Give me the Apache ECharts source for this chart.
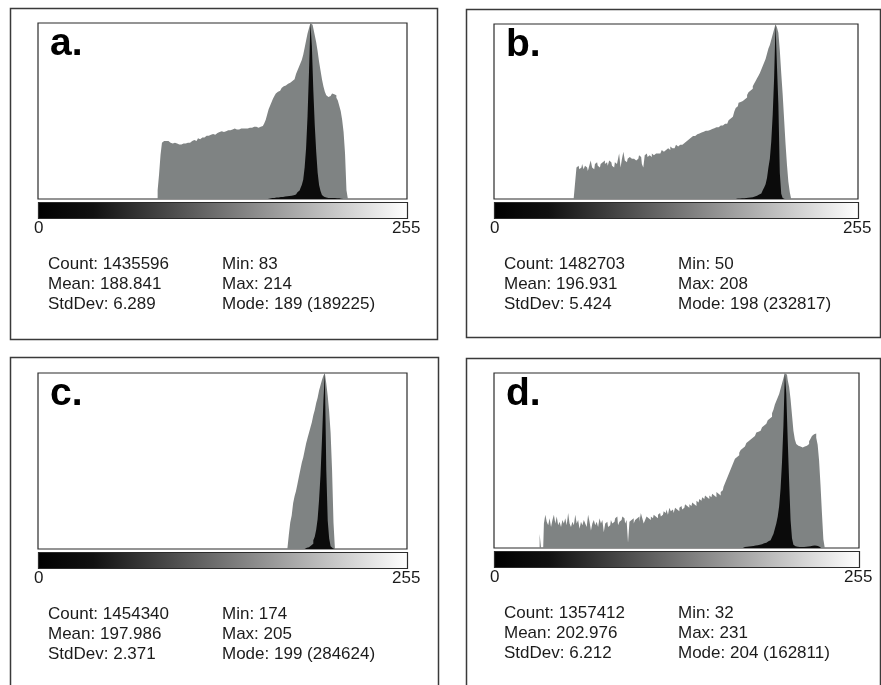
<!DOCTYPE html>
<html>
<head>
<meta charset="utf-8">
<script src="https://cdn.jsdelivr.net/npm/echarts@6.0.0/dist/echarts.min.js"></script>
<style>
  html, body { margin: 0; padding: 0; background: #fff; }
  #chart { width: 881px; height: 685px; }
</style>
</head>
<body>
<div id="chart"></div>
<script>
// 256 grey-level bins, only the two end labels are shown
var bins = [];
for (var i = 0; i < 256; i++) bins.push(String(i));
var tickLabels = ['0', '255'];
var panelLabels = ['a.', 'b.', 'c.', 'd.'];

// grey area = log-scaled histogram, black = linear histogram (both % of plot height)
// each array starts at the bin given by its *Start value
var grayStartA = 83;
var grayA = [5, 14, 25, 32, 33, 33, 32.5, 33, 32, 32.5,
  31.5, 32, 31, 31.5, 31, 32, 31, 31.5, 31, 31.5,
  32, 31, 32, 33, 32.5, 33.5, 33, 34, 34.5, 34,
  35, 34.5, 35, 36, 35.5, 36, 36.5, 36, 37, 36.5,
  37, 37.5, 38, 37.5, 38.5, 38, 39, 38.5, 39, 39.5,
  39, 39.5, 39, 40, 39.5, 40, 39.5, 40, 40.5, 40,
  40, 40.5, 40, 40.5, 40, 40.5, 41, 40.5, 41, 40.5,
  41, 41, 41.5, 42, 43, 45, 48, 51, 53, 55,
  57, 58.5, 60, 61, 61.5, 62.5, 63, 64, 64.5, 65,
  65.5, 66, 66.5, 67, 68, 69, 71, 73, 75, 77,
  79, 82, 86, 90, 94, 97, 100, 99, 97, 93,
  89, 84, 78, 73, 68, 64, 61, 59, 58, 58.5,
  59.5, 60, 59.5, 59, 57.5, 56, 53, 50, 45, 38,
  26, 5];
var blackStartA = 160;
var blackA = [0.3, 0.4, 0.5, 0.6, 0.7, 0.8, 0.9, 1, 1.1, 1.2,
  1.3, 1.4, 1.5, 1.6, 1.7, 1.8, 2, 2.2, 2.5, 3,
  3.8, 4.8, 6, 8, 11, 18, 29, 47, 72, 100,
  87, 62, 42, 27, 15, 8, 4.5, 2.3, 1.3, 0.9,
  0.7, 0.6, 0.6, 0.6, 0.6, 0.6, 0.5, 0.4, 0.4, 0.3, 0.2];

var grayStartB = 57;
var grayB = [9, 18, 19, 17, 18, 20, 17, 19, 18, 16,
  19, 22, 18, 17, 20, 21, 19, 18, 20, 21,
  22, 20, 21, 19, 22, 21, 19, 18, 21, 20,
  22, 26, 18, 23, 27, 22, 21, 23, 24, 23,
  24, 23, 22, 21, 23, 25, 24, 20, 18, 25,
  26, 24, 25, 24, 26, 25, 26, 27, 26, 26,
  27, 28, 27, 28, 27, 29, 28, 30, 29, 29,
  30, 31, 30, 31, 32, 31, 32, 33, 33, 34,
  34, 35, 36, 36, 36, 37, 37, 37.5, 38, 38,
  38.5, 39, 38.5, 39, 39.5, 40, 40, 40.5, 40.5, 41,
  41, 41.5, 42, 42, 42.5, 43, 43, 44, 45, 46,
  47, 48, 50, 52, 53, 55, 55.5, 56, 56.5, 57,
  58, 59.5, 61, 62, 63, 64.5, 66, 67.5, 69, 70.5,
  72, 74, 76, 78, 80, 83, 86, 88, 91, 94,
  97, 100, 98, 95, 85, 72, 60, 46, 32, 20,
  10, 4];
var blackStartB = 170;
var blackB = [0.27, 0.3, 0.33, 0.36, 0.4, 0.46, 0.5, 0.58, 0.67, 0.8,
  0.9, 1, 1.2, 1.5, 1.8, 2.2, 2.6, 3.1, 4, 5,
  6.6, 8.5, 12, 18, 23, 33, 48, 69, 100, 76,
  54, 15, 3, 0.6];

var grayStartC = 174;
var grayC = [8, 15, 19, 26, 30, 33, 37, 41, 45, 49,
  52, 56, 60, 63, 66, 69, 72, 76, 79, 83,
  86, 90, 93, 96, 98.5, 100, 94, 87, 78, 66,
  45, 15];
var blackStartC = 186;
var blackC = [0.7, 1, 1.4, 2, 3, 5, 7, 11, 17, 28,
  42, 62, 84, 100, 45, 16, 6, 1.5, 0.4];

var grayStartD = 32;
var grayD = [8, 0, 0, 14, 19, 15, 13, 17, 12, 16,
  19, 14, 18, 13, 15, 12, 16, 14, 17, 13,
  20, 14, 12, 15, 13, 19, 14, 16, 11, 15,
  13, 16, 14, 12, 19, 15, 10, 14, 16, 13,
  15, 12, 17, 14, 16, 9, 14, 15, 12, 13,
  16, 14, 15, 17, 18, 13, 15, 16, 18, 17,
  14, 16, 3, 15, 16, 17, 14, 16, 17, 18,
  15, 20, 17, 14, 16, 18, 17, 16, 18, 17,
  19, 18, 17, 19, 20, 18, 19, 21, 20, 22,
  19, 23, 21, 22, 20, 23, 22, 21, 23, 24,
  22, 23, 25, 24, 23, 25, 24, 26, 25, 24,
  27, 26, 28, 27, 29, 28, 30, 29, 28, 30,
  29, 31, 30, 29, 32, 31, 30, 32, 33, 35,
  37, 39, 41, 43, 45, 47, 49, 51, 52, 53,
  54.5, 56, 57, 58, 59, 60, 61, 62, 62.5, 63,
  64, 65, 66, 66.5, 67, 68, 69, 70, 71, 72,
  73, 74, 75, 77, 79, 82, 84, 86, 88, 91,
  94, 97, 100, 99, 96, 92, 85, 76, 67, 62,
  59.5, 58.5, 58, 58, 57.5, 58, 58, 58.5, 59.5, 61,
  62.5, 64, 65, 65.5, 63, 59, 50, 36, 20, 5];
var blackStartD = 175;
var blackD = [0.6, 0.7, 0.7, 0.8, 0.9,
  1, 1.1, 1.2, 1.4, 1.6, 1.7, 1.9, 2.1, 2.4, 2.7,
  3, 3.4, 3.9, 4.4, 5, 6.3, 8, 11, 14, 18,
  24, 34, 49, 70, 100, 88, 62, 38, 16, 5.6,
  1.9, 1, 0.7, 0.7, 0.6, 0.6, 0.6, 0.6, 0.7, 0.7,
  0.8, 1, 1.2, 1.3, 1.5, 1.6, 1.3, 0.8, 0.4];

var statsA = ['Count: 1435596', 'Mean: 188.841', 'StdDev: 6.289', 'Min: 83', 'Max: 214', 'Mode: 189 (189225)'];
var statsB = ['Count: 1482703', 'Mean: 196.931', 'StdDev: 5.424', 'Min: 50', 'Max: 208', 'Mode: 198 (232817)'];
var statsC = ['Count: 1454340', 'Mean: 197.986', 'StdDev: 2.371', 'Min: 174', 'Max: 205', 'Mode: 199 (284624)'];
var statsD = ['Count: 1357412', 'Mean: 202.976', 'StdDev: 6.212', 'Min: 32', 'Max: 231', 'Mode: 204 (162811)'];

// spread a partial histogram over all 256 bins
function fillBins(start, vals) {
  var out = [];
  for (var i = 0; i < 256; i++) {
    var k = i - start;
    out.push(k >= 0 && k < vals.length ? vals[k] : 0);
  }
  return out;
}

var FONT = '"Liberation Sans", Arial, sans-serif';

// layout of the four panels: plot [left, top, width, height], outer box [x, y, w, h]
var panels = [
  { gray: fillBins(grayStartA, grayA), black: fillBins(blackStartA, blackA), stats: statsA,
    plot: [38, 23, 369, 176], box: [10, 8, 427, 331] },
  { gray: fillBins(grayStartB, grayB), black: fillBins(blackStartB, blackB), stats: statsB,
    plot: [494, 24, 364, 175], box: [466, 9, 414, 328] },
  { gray: fillBins(grayStartC, grayC), black: fillBins(blackStartC, blackC), stats: statsC,
    plot: [38, 373, 369, 176], box: [10, 357, 428, 340] },
  { gray: fillBins(grayStartD, grayD), black: fillBins(blackStartD, blackD), stats: statsD,
    plot: [494, 373, 365, 175], box: [466, 358, 414, 340] }
];

var grids = [], xAxes = [], yAxes = [], series = [], graphics = [];

panels.forEach(function (p, i) {
  var L = p.plot[0], T = p.plot[1], W = p.plot[2], H = p.plot[3];
  grids.push({
    left: L, top: T, width: W, height: H,
    show: true, borderColor: '#2b2b2b', borderWidth: 1.2, backgroundColor: '#fff'
  });
  xAxes.push({
    type: 'category', gridIndex: i, data: bins, boundaryGap: true,
    axisLine: { show: false }, axisTick: { show: false }, splitLine: { show: false },
    axisLabel: {
      interval: function (idx) { return idx === 0 || idx === 255; },
      formatter: function (v, idx) { return idx === 0 ? tickLabels[0] : tickLabels[1]; },
      margin: 21, fontSize: 17, fontFamily: FONT, color: '#1b1b1b'
    }
  });
  yAxes.push({ type: 'value', gridIndex: i, min: 0, max: 100, show: false });

  // log histogram (grey)
  series.push({
    type: 'line', xAxisIndex: i, yAxisIndex: i, data: p.gray,
    step: 'middle', symbol: 'none', silent: true, z: 2,
    lineStyle: { width: 0 },
    areaStyle: { color: '#7f8383', opacity: 1 }
  });
  // linear histogram (black)
  series.push({
    type: 'line', xAxisIndex: i, yAxisIndex: i, data: p.black,
    step: 'middle', symbol: 'none', silent: true, z: 3,
    lineStyle: { width: 0 },
    areaStyle: { color: '#0b0b0b', opacity: 1 }
  });

  // outer frame
  graphics.push({
    type: 'rect', silent: true, z: 0,
    shape: { x: p.box[0] + 0.5, y: p.box[1] + 0.5, width: p.box[2], height: p.box[3] },
    style: { fill: 'none', stroke: '#3a3a3a', lineWidth: 1.5 }
  });
  // grey-level ramp under the plot
  graphics.push({
    type: 'rect', silent: true, z: 5,
    shape: { x: L + 0.5, y: T + H + 3.5, width: W, height: 16 },
    style: {
      fill: new echarts.graphic.LinearGradient(0, 0, 1, 0, [
        { offset: 0, color: '#000' },
        { offset: 0.15, color: '#111' },
        { offset: 1, color: '#fff' }
      ]),
      stroke: '#2b2b2b', lineWidth: 1.2
    }
  });
  // panel letter
  graphics.push({
    type: 'text', silent: true, z: 10, x: L + 12, y: T + 21,
    style: { text: panelLabels[i], font: 'bold 39px ' + FONT, fill: '#000', verticalAlign: 'middle' }
  });
  // statistics, two columns of three lines
  for (var r = 0; r < 3; r++) {
    graphics.push({
      type: 'text', silent: true, z: 10, x: L + 10, y: T + H + 65 + r * 20,
      style: { text: p.stats[r], font: '17px ' + FONT, fill: '#1b1b1b', verticalAlign: 'middle' }
    });
    graphics.push({
      type: 'text', silent: true, z: 10, x: L + 184, y: T + H + 65 + r * 20,
      style: { text: p.stats[r + 3], font: '17px ' + FONT, fill: '#1b1b1b', verticalAlign: 'middle' }
    });
  }
});

var chart = echarts.init(document.getElementById('chart'));
chart.setOption({
  animation: false,
  backgroundColor: '#fff',
  grid: grids,
  xAxis: xAxes,
  yAxis: yAxes,
  series: series,
  graphic: graphics
});
</script>
</body>
</html>
